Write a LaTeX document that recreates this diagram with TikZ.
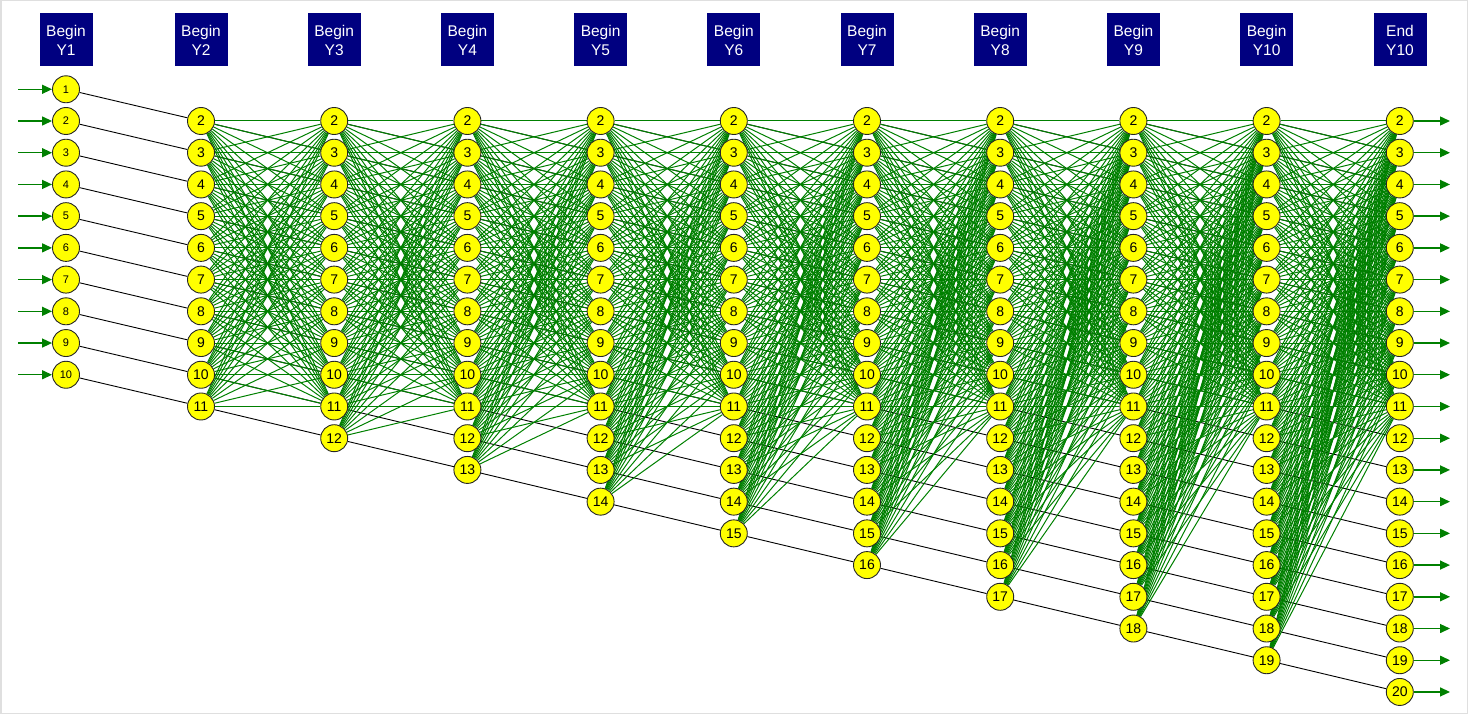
\documentclass[tikz,border=0pt]{standalone}
\usepackage{fontspec}
\setmainfont{Liberation Sans}
\usetikzlibrary{calc,arrows.meta,backgrounds}

\definecolor{headblue}{HTML}{000080}
\definecolor{movegreen}{HTML}{008000}
\definecolor{ballyellow}{HTML}{FFFF00}

\tikzset{
 head/.style={fill=headblue, text=white, minimum width=53, minimum height=53, inner sep=0, align=center, font=\fontsize{15.5}{19}\selectfont},
 ball/.style={circle, draw=black!85, fill=ballyellow, line width=.9, minimum size=27, inner sep=0, font=\fontsize{14}{14}\selectfont},
 smallball/.style={ball, font=\fontsize{11}{11}\selectfont},
 age/.style={black, line width=.9},
 move/.style={movegreen, line width=1},
 flow/.style={movegreen, line width=1.4, -{Triangle[length=10,width=9]}},
}

\begin{document}
\begin{tikzpicture}[x=1pt,y=-1pt]
\draw[gray!25, line width=1.5] (0.75,0.75) rectangle (1467.25,713.25);
\useasboundingbox (0,0) rectangle (1468,714);

% year headers
\node[head] (h1) at (66,40) {Begin\\Y1};
\foreach \k in {2,...,10}
 \node[head] (h\k) at ({201+(\k-2)*133.2},40) {Begin\\Y\k};
\node[head] (h11) at (1400,40) {End\\Y10};

% age nodes
\foreach \n in {1,...,10}
 \node[smallball] (c1-\n) at (66,{121+(\n-2)*31.72}) {\n};
\foreach \k in {2,...,11} {
 \pgfmathtruncatemacro\lastrow{\k+9}
 \foreach \n in {2,...,\lastrow}
  \node[ball] (c\k-\n) at ({201+(\k-2)*133.2},{121+(\n-2)*31.72}) {\n};
}

% in and out arrows
\foreach \n in {1,...,10} {
 \coordinate (in-\n) at (18,{121+(\n-2)*31.72});
 \draw[flow] (in-\n) -- (c1-\n);
}
\foreach \n in {2,...,20} {
 \coordinate (out-\n) at (1450,{121+(\n-2)*31.72});
 \draw[flow] (c11-\n) -- (out-\n);
}

\begin{scope}[on background layer]
% ageing
\foreach \n [evaluate=\n as \m using int(\n+1)] in {1,...,10}
 \draw[age] (c1-\n) -- (c2-\m);
\foreach \k in {2,...,10} {
 \pgfmathtruncatemacro\nx{\k+1}
 \pgfmathtruncatemacro\lastrow{\k+9}
 \foreach \n [evaluate=\n as \m using int(\n+1)] in {2,...,\lastrow} {
  \draw[age] (c\k-\n) -- (c\nx-\m);
  \foreach \j in {2,...,11}
   \draw[move] (c\k-\n) -- (c\nx-\j);
 }
}
\end{scope}
\end{tikzpicture}
\end{document}
